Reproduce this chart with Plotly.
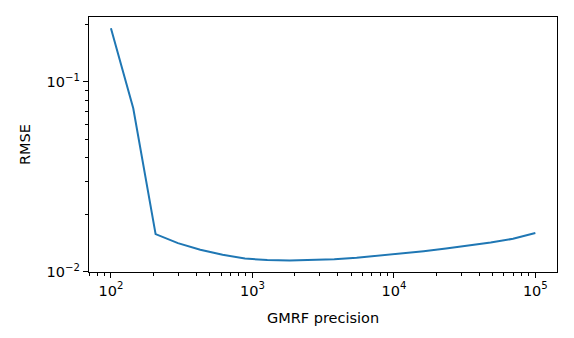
import plotly.graph_objects as go

# GMRF precision values (log-spaced, 20 points from 1e2 to 1e5)
precision = [100.0, 143.8, 206.9, 297.6, 428.1, 615.8, 885.9, 1274.3,
             1832.98, 2636.7, 3792.7, 5455.6, 7847.6, 11288.4, 16237.8,
             23357.2, 33598.2, 48329.3, 69519.3, 100000.0]
rmse = [0.192, 0.0727, 0.0158, 0.01416, 0.01306, 0.01229, 0.01175, 0.01153,
        0.01147, 0.01153, 0.01166, 0.01185, 0.01214, 0.01244, 0.01285,
        0.01327, 0.01375, 0.01426, 0.01493, 0.0160]

x_major = [1e2, 1e3, 1e4, 1e5]
x_labels = ['10<sup>2</sup>', '10<sup>3</sup>', '10<sup>4</sup>', '10<sup>5</sup>']
y_major = [1e-2, 1e-1]
y_labels = ['10<sup>\u22122</sup>', '10<sup>\u22121</sup>']

# minor tick positions (2..9 x each decade)
x_minor = [m * 10 ** e for e in range(1, 6) for m in range(2, 10)]
y_minor = [m * 10 ** e for e in range(-3, 1) for m in range(2, 10)]

x_range = [1.845, 5.153]
y_range = [-2.001, -0.658]

font = dict(family='DejaVu Sans', size=14.5, color='black')

fig = go.Figure()
fig.add_trace(go.Scatter(x=precision, y=rmse, mode='lines',
                         line=dict(color='#1f77b4', width=2)))

axis_style = dict(
    type='log', showgrid=False, zeroline=False,
    showline=True, linecolor='black', linewidth=1.2, mirror=True,
    ticks='outside', ticklen=5, tickwidth=1.3, tickcolor='black',
    tickfont=font,
)
minor_style = dict(ticks='outside', ticklen=3, tickwidth=1.1,
                   tickcolor='black', showgrid=False)

fig.update_layout(
    width=574, height=338,
    # page body adds an 8px offset, margins compensate for it
    margin=dict(l=81, r=25, t=9, b=74),
    plot_bgcolor='white', paper_bgcolor='white',
    showlegend=False,
    xaxis=dict(axis_style, range=x_range,
               tickvals=x_major, ticktext=x_labels,
               minor=dict(minor_style, tickvals=x_minor),
               title=dict(text='GMRF precision', standoff=15, font=font)),
    yaxis=dict(axis_style, range=y_range,
               tickvals=y_major, ticktext=y_labels,
               minor=dict(minor_style, tickvals=y_minor),
               title=dict(text='RMSE', standoff=12, font=font)),
)

fig.write_html("out.html")
